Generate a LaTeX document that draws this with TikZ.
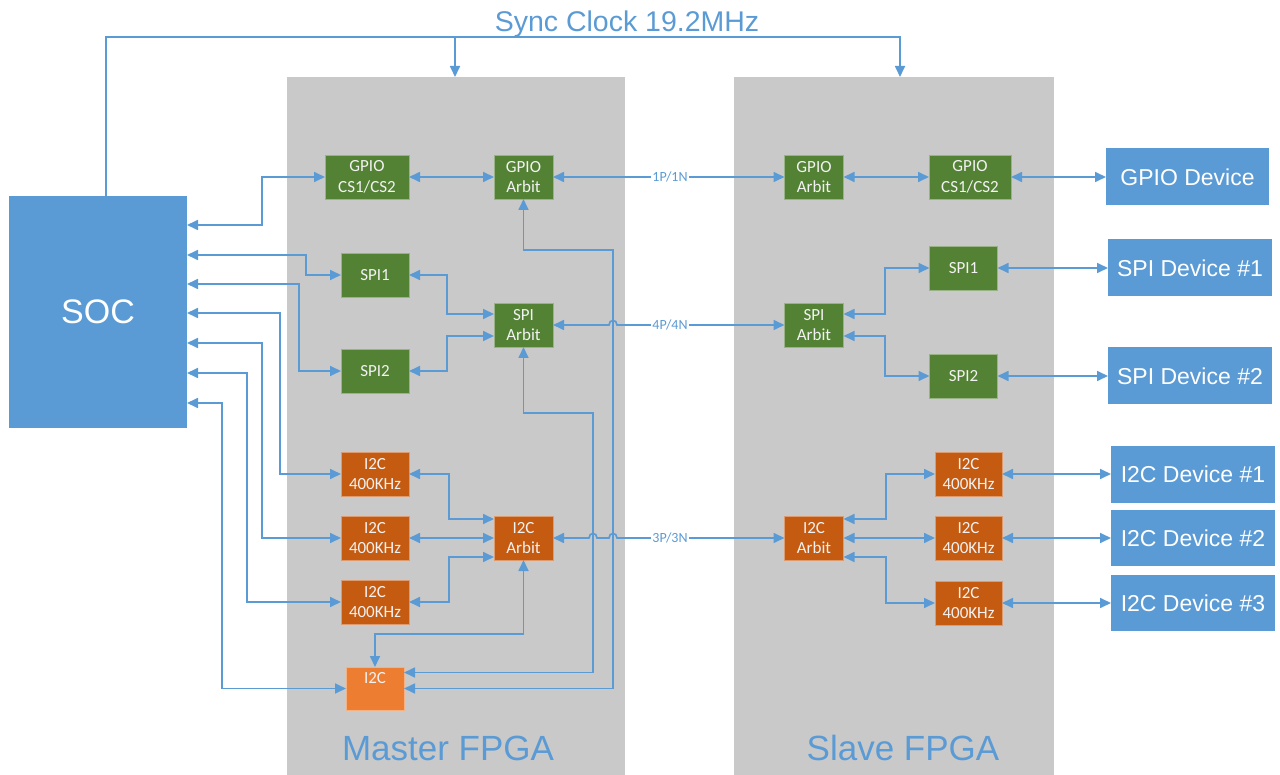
\documentclass[tikz,border=0pt]{standalone}
\usepackage{fontspec}
\setmainfont{Liberation Sans}
\newfontfamily\blockfont{Carlito}
\usetikzlibrary{arrows.meta,calc}

\definecolor{wireblue}{HTML}{5B9BD5}
\definecolor{devblue}{HTML}{5B9BD5}
\definecolor{fpgagrey}{RGB}{201,201,201}
\definecolor{blockgreen}{HTML}{548235}
\definecolor{blockorange}{HTML}{C55A11}
\definecolor{lightorange}{HTML}{ED7D31}

\begin{document}
\begin{tikzpicture}[x=1pt,y=-1pt,
  >={Triangle[length=11pt,width=10pt]},
  wire/.style={draw=wireblue, line width=1.7pt},
  fpga/.style={fill=fpgagrey, inner sep=0pt, outer sep=0pt, minimum height=698pt},
  fpgalabel/.style={text=wireblue, font=\fontsize{35}{40}\selectfont, inner sep=0pt},
  blk/.style={fill=#1, draw=#1!60!white, line width=0.7pt, text=white!95!black,
    font=\blockfont\fontsize{17}{20.5}\selectfont, align=center,
    inner sep=0pt, outer sep=0pt, minimum height=44pt},
  greenblk/.style={blk=blockgreen},
  orangeblk/.style={blk=blockorange},
  lightblk/.style={blk=lightorange},
  device/.style={fill=devblue, text=white, font=\fontsize{23}{26}\selectfont,
    inner sep=0pt, outer sep=0pt, minimum width=164pt, minimum height=57pt},
  buslbl/.style={fill=white, text=wireblue, font=\blockfont\fontsize{14}{16}\selectfont, inner sep=1pt}
]
\useasboundingbox (0,0) rectangle (1280,775);

% FPGA areas
\node[fpga, minimum width=338pt] (master) at (456,426) {};
\node[fpga, minimum width=320pt] (slave) at (894,426) {};
\node[fpgalabel, anchor=base] (mlabel) at (448,760) {Master FPGA};
\node[fpgalabel, anchor=base] (slabel) at (903,760) {Slave FPGA};

% SOC
\node[device, minimum width=178pt, minimum height=232pt, font=\fontsize{34}{38}\selectfont] (soc) at (98,312) {SOC};

% Master FPGA blocks
\node[greenblk, minimum width=84pt] (mgc) at (367,177) {GPIO\\CS1/CS2};
\node[greenblk, minimum width=59pt] (mga) at (523.5,177) {GPIO\\Arbit};
\node[greenblk, minimum width=68pt] (ms1) at (375,275) {SPI1};
\node[greenblk, minimum width=59pt] (msa) at (523.5,325) {SPI\\Arbit};
\node[greenblk, minimum width=68pt] (ms2) at (375,371) {SPI2};
\node[orangeblk, minimum width=68pt] (mi1) at (375,474) {I2C\\400KHz};
\node[orangeblk, minimum width=68pt] (mi2) at (375,538) {I2C\\400KHz};
\node[orangeblk, minimum width=68pt] (mi3) at (375,602) {I2C\\400KHz};
\node[orangeblk, minimum width=59pt] (mia) at (523.5,538) {I2C\\Arbit};
\node[lightblk, minimum width=58pt, minimum height=43pt, text height=16pt, text depth=27pt] (mil) at (375,688.5) {I2C};

% Slave FPGA blocks
\node[greenblk, minimum width=59pt] (sga) at (814,177) {GPIO\\Arbit};
\node[greenblk, minimum width=82pt] (sgc) at (970,177) {GPIO\\CS1/CS2};
\node[greenblk, minimum width=68pt] (ss1) at (963.5,268) {SPI1};
\node[greenblk, minimum width=59pt] (ssa) at (814,325) {SPI\\Arbit};
\node[greenblk, minimum width=68pt] (ss2) at (963.5,376) {SPI2};
\node[orangeblk, minimum width=59pt] (sia) at (814,538) {I2C\\Arbit};
\node[orangeblk, minimum width=67pt] (si1) at (968.5,474) {I2C\\400KHz};
\node[orangeblk, minimum width=67pt] (si2) at (968.5,538) {I2C\\400KHz};
\node[orangeblk, minimum width=67pt] (si3) at (968.5,603) {I2C\\400KHz};

% External devices
\node[device, minimum width=163pt] (gdev) at (1187.5,177) {GPIO Device};
\node[device] (sd1) at (1190,268) {SPI Device \#1};
\node[device] (sd2) at (1190,376) {SPI Device \#2};
\node[device] (id1) at (1193,474) {I2C Device \#1};
\node[device, minimum height=56pt] (id2) at (1193,538) {I2C Device \#2};
\node[device, minimum height=56pt] (id3) at (1193,603) {I2C Device \#3};

% Sync clock distribution
\coordinate (tap) at (455,37);
\draw[wire,->] (soc.north -| 106,0) |- (900,37) -- (slave.north -| 900,0);
\draw[wire,->] (tap) -- (master.north -| tap);
\node[text=wireblue, font=\fontsize{28.5}{32}\selectfont, anchor=base, inner sep=0pt] (sync) at (627,32) {Sync Clock 19.2MHz};

% SOC to master FPGA
\draw[wire,<->] (soc.east |- 0,225) -- ++(75,0) |- (mgc.west);
\draw[wire,<->] (soc.east |- 0,255) -- ++(119,0) |- (ms1.west);
\draw[wire,<->] (soc.east |- 0,284) -- ++(112,0) |- (ms2.west);
\draw[wire,<->] (soc.east |- 0,313) -- ++(93,0) |- (mi1.west);
\draw[wire,<->] (soc.east |- 0,343) -- ++(75,0) |- (mi2.west);
\draw[wire,<->] (soc.east |- 0,373) -- ++(60,0) |- (mi3.west);
\draw[wire,<->] (soc.east |- 0,403) -- ++(35,0) |- (mil.west);

% Master internal links
\draw[wire,<->] (mgc.east) -- (mga.west);
\draw[wire,<->] (ms1.east) -- ++(38,0) |- ($(msa.west)+(0,-11)$);
\draw[wire,<->] (ms2.east) -- ++(38,0) |- ($(msa.west)+(0,11)$);
\draw[wire,<->] (mi1.east) -- ++(40,0) |- ($(mia.west)+(0,-19)$);
\draw[wire,<->] (mi2.east) -- (mia.west);
\draw[wire,<->] (mi3.east) -- ++(40,0) |- ($(mia.west)+(0,19)$);
\draw[wire,<->] (mga.south) -- ++(0,51) -- ++(89.5,0) |- (mil.east);
\draw[wire,<->] (msa.south) -- ++(0,66) -- ++(69.5,0) |- ($(mil.east)+(0,-16)$);
\draw[wire,<->] (mia.south) -- ++(0,74) -| (mil.north);

% Links between the two FPGAs
\draw[wire,<->] (mga.east) -- (sga.west);
\draw[wire,<->] (msa.east) -- (609,325) .. controls (609,319) and (617,319) .. (617,325) -- (ssa.west);
\draw[wire,<->] (mia.east) -- (589,538) .. controls (589,532) and (597,532) .. (597,538)
  -- (609,538) .. controls (609,532) and (617,532) .. (617,538) -- (sia.west);
\node[buslbl] (bus1) at (670,177) {1P/1N};
\node[buslbl] (bus4) at (670,325) {4P/4N};
\node[buslbl] (bus3) at (670,538) {3P/3N};

% Slave internal links
\draw[wire,<->] (sga.east) -- (sgc.west);
\draw[wire,<->] ($(ssa.east)+(0,-11)$) -- ++(41.5,0) |- (ss1.west);
\draw[wire,<->] ($(ssa.east)+(0,11)$) -- ++(41.5,0) |- (ss2.west);
\draw[wire,<->] ($(sia.east)+(0,-19)$) -- ++(42.5,0) |- (si1.west);
\draw[wire,<->] (sia.east) -- (si2.west);
\draw[wire,<->] ($(sia.east)+(0,19)$) -- ++(42.5,0) |- (si3.west);

% Slave to devices
\draw[wire,<->] (sgc.east) -- (gdev.west);
\draw[wire,<->] (ss1.east) -- (sd1.west);
\draw[wire,<->] (ss2.east) -- (sd2.west);
\draw[wire,<->] (si1.east) -- (id1.west);
\draw[wire,<->] (si2.east) -- (id2.west);
\draw[wire,<->] (si3.east) -- (id3.west);
\end{tikzpicture}
\end{document}
